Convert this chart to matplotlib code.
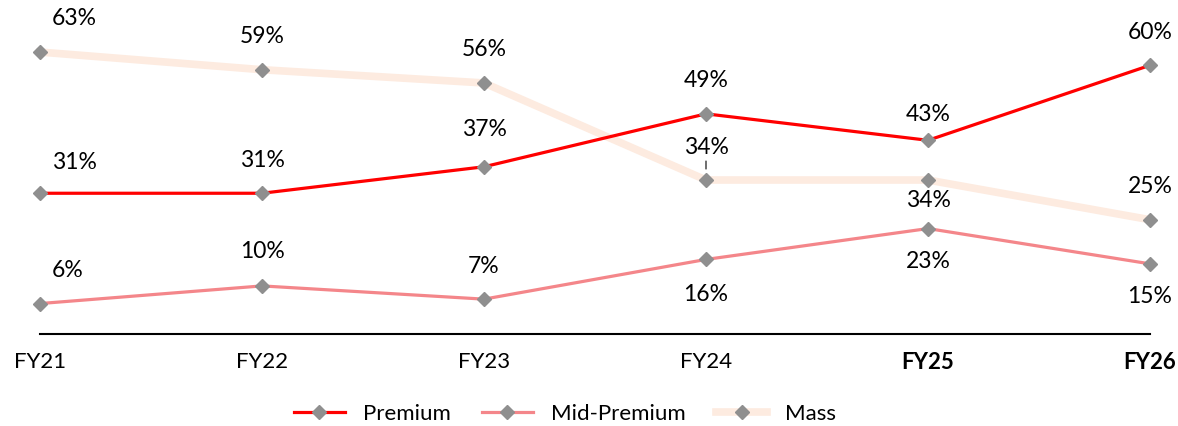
import matplotlib
matplotlib.use("Agg")
import matplotlib.pyplot as plt
from matplotlib.lines import Line2D

categories = ["FY21", "FY22", "FY23", "FY24", "FY25", "FY26"]
bold_ticks = ["FY25", "FY26"]
premium = [31, 31, 37, 49, 43, 60]
mid_premium = [6, 10, 7, 16, 23, 15]
mass = [63, 59, 56, 34, 34, 25]

# label vertical offsets in pixels (positive = above)
premium_off = [31, 33, 37, 33, 26, 33]
mid_off = [33, 34, 33, -35, -33, -33]
mass_off = [34, 33, 33, 33, -20, 33]

plt.rcParams['font.family'] = ['Lato', 'DejaVu Sans']

W, H = 1178, 426
fig = plt.figure(figsize=(W / 100, H / 100), dpi=100)
ax = fig.add_axes([40 / W, (H - 334) / H, 1110 / W, 334 / H])
ax.set_xlim(0, len(categories) - 1)
ax.set_ylim(-0.9, 74.8)

x = list(range(len(categories)))
series = [
    ("Premium", premium, "#FF0000", 2.3, premium_off, 3),
    ("Mid-Premium", mid_premium, "#F4868A", 2.3, mid_off, 2),
    ("Mass", mass, "#FDEBE0", 5.5, mass_off, 1),
]
px = 72 / 100
LFS = 16.5
for name, vals, col, lw, offs, z in series:
    ax.plot(x, vals, color=col, lw=lw, marker="D", ms=7, mfc="#8F8F8F",
            mec="#8F8F8F", zorder=z, label=name, clip_on=False)
    for i, (v, o) in enumerate(zip(vals, offs)):
        if i == 0:
            ax.annotate(f"{v}%", (i, v), xytext=(12 * px, o * px),
                        textcoords="offset points", ha="left", va="center",
                        fontsize=LFS, color="#000000", zorder=5)
        else:
            ax.annotate(f"{v}%", (i, v), xytext=(0, o * px),
                        textcoords="offset points", ha="center", va="center",
                        fontsize=LFS, color="#000000", zorder=5)

# leader line for FY24 mass label
ax.annotate("", (3, mass[3]), xytext=(0, 19 * px), textcoords="offset points",
            arrowprops=dict(arrowstyle="-", color="black", lw=0.8,
                            shrinkA=0, shrinkB=11 * px))

for s in ["top", "right", "left"]:
    ax.spines[s].set_visible(False)
ax.spines["bottom"].set_linewidth(1.5)
ax.spines["bottom"].set_color("#000000")
ax.set_yticks([])
ax.set_xticks(x)
ax.set_xticklabels(categories, fontsize=16)
for t in ax.get_xticklabels():
    if t.get_text() in bold_ticks:
        t.set_fontweight("bold")
ax.tick_params(axis="x", length=0, pad=13)

handles = [Line2D([], [], color=c, lw=lw, marker="D", ms=7, mfc="#8F8F8F",
                  mec="#8F8F8F") for _, _, c, lw, _, _ in series]
fig.legend(handles, [s[0] for s in series], loc="center",
           bbox_to_anchor=(565 / W, (H - 414) / H), ncol=3, frameon=False,
           fontsize=16, handlelength=2.3, columnspacing=1.4, handletextpad=0.8)

fig.savefig("out.png", dpi=100)
